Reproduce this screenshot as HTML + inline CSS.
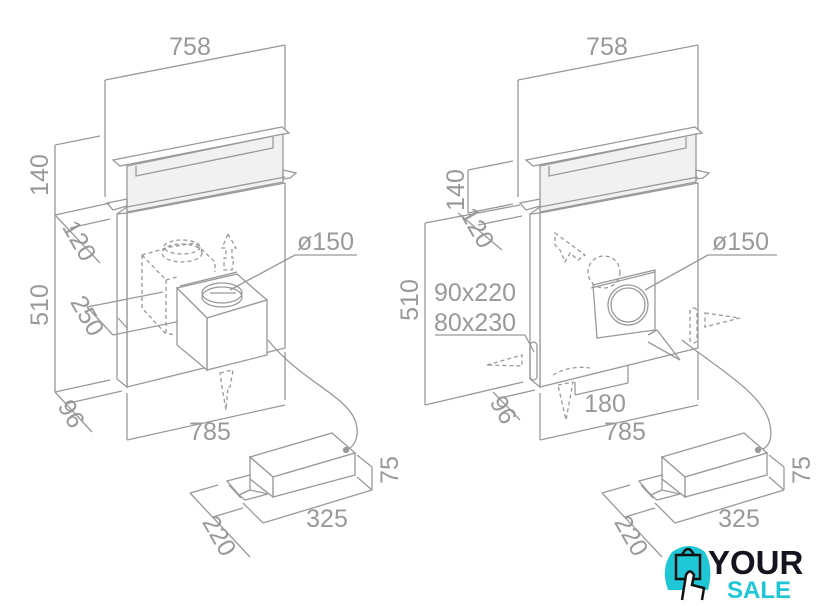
<!DOCTYPE html>
<html><head><meta charset="utf-8"><style>
html,body{margin:0;padding:0;background:#fff}
svg{display:block}
text{font-family:"Liberation Sans",sans-serif;fill:#999;font-size:25px}
</style></head><body>
<svg width="840" height="606" viewBox="0 0 840 606" xmlns="http://www.w3.org/2000/svg">
<defs>
<g id="hood" stroke="#999" stroke-width="1.3" fill="none">
  <line x1="105" y1="80" x2="285" y2="45"/>
  <line x1="105" y1="80" x2="105" y2="197"/>
  <line x1="285" y1="45" x2="285" y2="130"/>
  <polygon points="113,160 282,127 289,133 120,166" fill="#fff"/>
  <polygon points="127,166 283,134 283,182 127,212" fill="#f1f1f1"/>
  <polyline points="136,166 136,176 273,148 273,137"/>
  <polygon points="107,203 127,199 127,206 113,210"/>
  <polygon points="283,170 296,173 290,178 283,179"/>
  <polygon points="127,213 285,183 285,348 127,387" fill="#fff"/>
  <polygon points="117,214 127,213 127,387 117,379" fill="#fff"/>
  <line x1="127" y1="207" x2="285" y2="177"/>
  <line x1="117" y1="214" x2="127" y2="207"/>
  <line x1="127" y1="393" x2="127" y2="440"/>
  <line x1="285" y1="352" x2="285" y2="400"/>
  <line x1="127" y1="440" x2="285" y2="405"/>
</g>
<g id="motor" stroke="#999" stroke-width="1.3" fill="#fff">
  <polygon points="250,457 332,433 355,453 273,477"/>
  <polygon points="273,477 355,453 355,475 273,497"/>
  <polygon points="250,457 273,477 273,497 250,479"/>
  <polygon points="227,481 250,475 250,490 239,495"/>
  <polygon points="239,495 250,490 268,494 245,500"/>
  <line x1="229" y1="485" x2="241" y2="498"/>
  <circle cx="346" cy="450" r="2.5" fill="#999"/>
  <g fill="none">
  <line x1="357" y1="455" x2="372" y2="467"/>
  <line x1="357" y1="477" x2="372" y2="490"/>
  <line x1="372" y1="467" x2="372" y2="490"/>
  <line x1="263" y1="523" x2="372" y2="490"/>
  <line x1="243" y1="503" x2="263" y2="523"/>
  <line x1="190" y1="493" x2="218" y2="485"/>
  <line x1="213" y1="517" x2="243" y2="508"/>
  <line x1="190" y1="493" x2="250" y2="557"/>
  </g>
</g>
</defs>

<use href="#hood"/>
<g stroke="#999" stroke-width="1.3" fill="none">
  <line x1="55" y1="145" x2="55" y2="392"/>
  <line x1="55" y1="145" x2="100" y2="136"/>
  <line x1="55" y1="215" x2="110" y2="203"/>
  <line x1="70" y1="228" x2="110" y2="219"/>
  <line x1="55" y1="215" x2="100" y2="263"/>
  <line x1="55" y1="392" x2="110" y2="380"/>
  <line x1="65" y1="404" x2="122" y2="391"/>
  <line x1="55" y1="392" x2="92" y2="432"/>
  <line x1="87" y1="307" x2="163" y2="292"/>
  <line x1="113" y1="335" x2="200" y2="317"/>
  <line x1="87" y1="307" x2="113" y2="335"/>
  <line x1="118" y1="318" x2="127" y2="328"/>
  <g stroke-dasharray="4,3">
    <polyline points="142,255 170,247 195,243 215,262 215,272"/>
    <polyline points="142,255 142,308 165,333 175,335"/>
    <line x1="142" y1="255" x2="166" y2="280"/>
    <line x1="166" y1="280" x2="166" y2="333"/>
    <line x1="166" y1="280" x2="177" y2="277"/>
    <ellipse cx="182" cy="253" rx="20" ry="9"/>
    <ellipse cx="182" cy="247" rx="18" ry="7"/>
    <polygon points="228,234 236,248 232,248 232,258 234,258 232,270 224,270 224,258 226,258 226,248 222,248"/>
    <polygon points="220,373 233,370 230,387 228,387 226,410 222,387"/>
  </g>
  <polygon points="177,288 237,274 267,300 207,318" fill="#fff"/>
  <polygon points="207,318 267,300 267,355 207,370" fill="#fff"/>
  <polygon points="177,288 207,318 207,370 177,345" fill="#fff"/>
  <line x1="180" y1="286" x2="237" y2="272"/>
  <ellipse cx="222" cy="293" rx="20" ry="10"/>
  <ellipse cx="222" cy="297" rx="20" ry="10"/>
  <line x1="210" y1="293" x2="236" y2="293"/>
  <line x1="295" y1="255" x2="357" y2="255"/>
  <line x1="295" y1="255" x2="230" y2="290"/>
  <path d="M268,340 C300,380 345,395 355,420 C362,440 350,450 346,450"/>
</g>
<text x="190" y="55" text-anchor="middle">758</text>
<text transform="translate(48,175) rotate(-90)" text-anchor="middle">140</text>
<text transform="translate(48,305) rotate(-90)" text-anchor="middle">510</text>
<text transform="translate(72,245) rotate(60)" text-anchor="middle">120</text>
<text transform="translate(80,320) rotate(60)" text-anchor="middle">250</text>
<text transform="translate(64,418) rotate(60)" text-anchor="middle">96</text>
<text x="210" y="440" text-anchor="middle">785</text>
<text x="297" y="250">ø150</text>
<use href="#motor"/>
<text transform="translate(398,470) rotate(-90)" text-anchor="middle">75</text>
<text x="327" y="527" text-anchor="middle">325</text>
<text transform="translate(212,540) rotate(60)" text-anchor="middle">220</text>

<g transform="translate(413,0)"><use href="#hood"/></g>
<g stroke="#999" stroke-width="1.3" fill="none">
  <line x1="468" y1="170" x2="468" y2="213"/>
  <line x1="468" y1="170" x2="513" y2="161"/>
  <line x1="468" y1="213" x2="513" y2="204"/>
  <line x1="478" y1="225" x2="522" y2="216"/>
  <line x1="458" y1="213" x2="502" y2="250"/>
  <line x1="425" y1="223" x2="425" y2="405"/>
  <line x1="425" y1="223" x2="520" y2="205"/>
  <line x1="425" y1="405" x2="523" y2="382"/>
  <line x1="493" y1="392" x2="520" y2="420"/>
  <line x1="500" y1="398" x2="535" y2="390"/>
  <line x1="435" y1="335" x2="525" y2="335"/>
  <line x1="525" y1="335" x2="534" y2="352"/>
  <rect x="530" y="342" width="7" height="38" rx="3.5"/>
  <line x1="575" y1="382" x2="575" y2="395"/>
  <line x1="628" y1="365" x2="628" y2="383"/>
  <line x1="575" y1="395" x2="628" y2="383"/>
  <polygon points="593,285 655,270 655,330 597,338" fill="#fff"/>
  <line x1="591" y1="288" x2="655" y2="272"/>
  <circle cx="628" cy="305" r="20"/>
  <circle cx="628" cy="305" r="17"/>
  <line x1="708" y1="255" x2="777" y2="255"/>
  <line x1="708" y1="255" x2="645" y2="290"/>
  <polyline points="648,335 657,330 680,360 648,342"/>
  <path d="M682,340 C720,370 765,395 770,425 C773,440 768,448 760,450"/>
  <g stroke-dasharray="4,3">
    <circle cx="604" cy="272" r="16"/>
    <polygon points="555,233 585,255 578,260 570,253 565,262 560,250 555,245"/>
    <rect x="690" y="308" width="7" height="35" rx="3.5"/>
    <polygon points="705,313 740,318 705,327"/>
    <polygon points="487,365 522,355 522,366"/>
    <polygon points="558,385 573,382 566,420"/>
    <path d="M553,375 Q570,365 590,368"/>
  </g>
</g>
<text x="607" y="55" text-anchor="middle">758</text>
<text transform="translate(464,190) rotate(-90)" text-anchor="middle">140</text>
<text transform="translate(418,300) rotate(-90)" text-anchor="middle">510</text>
<text transform="translate(470,232) rotate(60)" text-anchor="middle">120</text>
<text transform="translate(496,414) rotate(60)" text-anchor="middle">96</text>
<text x="434" y="301">90x220</text>
<text x="434" y="331">80x230</text>
<text x="605" y="412" text-anchor="middle">180</text>
<text x="625" y="440" text-anchor="middle">785</text>
<text x="712" y="250">ø150</text>
<g transform="translate(412,0)">
<use href="#motor"/>
<text transform="translate(398,470) rotate(-90)" text-anchor="middle">75</text>
<text x="327" y="527" text-anchor="middle">325</text>
<text transform="translate(212,540) rotate(60)" text-anchor="middle">220</text>
</g>

<path d="M668,590 Q660,568 672,552 Q690,540 705,552 Q714,568 708,590 Z" fill="#1ec6d6"/>
<rect x="676" y="555" width="24" height="24" fill="#1ec6d6" stroke="#111" stroke-width="2.5"/>
<path d="M682,555 Q688,543 694,555" fill="none" stroke="#111" stroke-width="2.5"/>
<path d="M682,600 L686,575 Q690,568 694,575 L692,585 L704,588 L702,600" fill="#fff" stroke="#111" stroke-width="2.5"/>
<text x="708" y="574" style="font-size:33px;font-weight:bold;fill:#14141e">YOUR</text>
<text x="727" y="598" style="font-size:24px;font-weight:bold;fill:#1ec6d6">SALE</text>
</svg>
</body></html>
